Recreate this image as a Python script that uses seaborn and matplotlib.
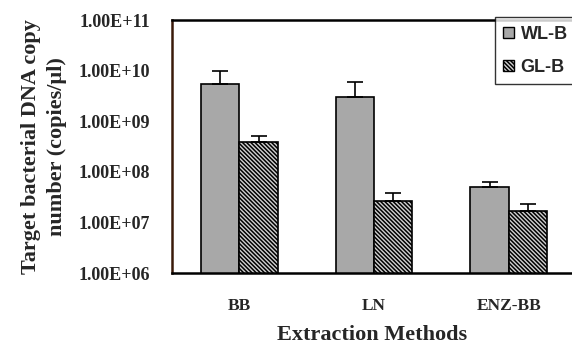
import numpy as np
import pandas as pd
import matplotlib
matplotlib.use("Agg")
import matplotlib.pyplot as plt
import seaborn as sns

methods = ["BB", "LN", "ENZ-BB"]
series = ["WL-B", "GL-B"]
wl_b = [5.4e9, 3.0e9, 5.1e7]
gl_b = [3.9e8, 2.6e7, 1.65e7]
wl_b_err = [4.6e9, 2.9e9, 1.3e7]
gl_b_err = [1.3e8, 1.2e7, 0.65e7]
ytick_vals = [1e6, 1e7, 1e8, 1e9, 1e10, 1e11]

df = pd.DataFrame({
    "method": methods * 2,
    "series": [series[0]] * 3 + [series[1]] * 3,
    "value": wl_b + gl_b,
})

sns.set_style("white")
plt.rcParams["hatch.linewidth"] = 1.1
plt.rcParams["hatch.color"] = "black"
GL_HATCH = "\\" * 8

fig = plt.figure(figsize=(5.72, 3.48), dpi=100)
ax = fig.add_axes([0.3007, 0.2155, 0.6993, 0.727])
ax.set_yscale("log")

sns.barplot(data=df, x="method", y="value", hue="series", order=methods,
            hue_order=series, width=0.57, ax=ax, errorbar=None,
            palette=["#a8a8a8", "#d0d0d0"], edgecolor="black", linewidth=1.2,
            legend=True)

# hatch on GL-B bars, error bars (upper only)
errs = [wl_b_err, gl_b_err]
vals = [wl_b, gl_b]
bar_conts = list(ax.containers)[:2]
for i, cont in enumerate(bar_conts):
    for j, bar in enumerate(cont.patches):
        if i == 1:
            bar.set_hatch(GL_HATCH)
        cx = bar.get_x() + bar.get_width() / 2
        ax.errorbar([cx], [vals[i][j]], yerr=[[0], [errs[i][j]]], fmt="none",
                    ecolor="black", elinewidth=1.2, capsize=6, capthick=1.2)

ax.set_ylim(1e6, 1e11)
ax.set_xlim(-0.5, 2.47)
ax.set_yticks(ytick_vals)
ax.set_yticklabels(["%.2fE+%02d" % (1.0, int(np.log10(v))) for v in ytick_vals],
                   fontfamily="Liberation Serif", fontweight="bold", fontsize=13)
ax.yaxis.set_minor_locator(matplotlib.ticker.NullLocator())
ax.tick_params(axis="y", direction="in", length=4, color="#b06030", pad=16)
ax.tick_params(axis="x", length=0, pad=18)
for lab in ax.get_xticklabels():
    lab.set_fontfamily("Liberation Serif")
    lab.set_fontweight("bold")
    lab.set_fontsize(12.5)

ax.set_xlabel("Extraction Methods", fontfamily="Liberation Serif",
              fontweight="bold", fontsize=16, labelpad=8)
ax.set_ylabel("Target bacterial DNA copy\nnumber (copies/\u00b5l)",
              fontfamily="Liberation Serif", fontweight="bold", fontsize=16,
              labelpad=8, linespacing=1.4)

for s in ["left", "top", "bottom"]:
    ax.spines[s].set_visible(True)
    ax.spines[s].set_color("black")
    ax.spines[s].set_linewidth(1.8)
ax.spines["left"].set_color("#3a1a0a")
ax.spines["right"].set_visible(False)

leg = ax.legend(loc="upper right", bbox_to_anchor=(1.01, 1.01), frameon=True,
                fancybox=False, edgecolor="black", handlelength=0.6,
                handleheight=0.6, handletextpad=0.4, labelspacing=0.9,
                borderpad=0.45, borderaxespad=0.0,
                prop={"family": "Liberation Sans", "weight": "bold", "size": 13})
leg.get_frame().set_linewidth(1.0)
for h in leg.legend_handles:
    h.set_linewidth(1.0)
leg.legend_handles[1].set_hatch(GL_HATCH)

fig.savefig("out.png", dpi=100)
